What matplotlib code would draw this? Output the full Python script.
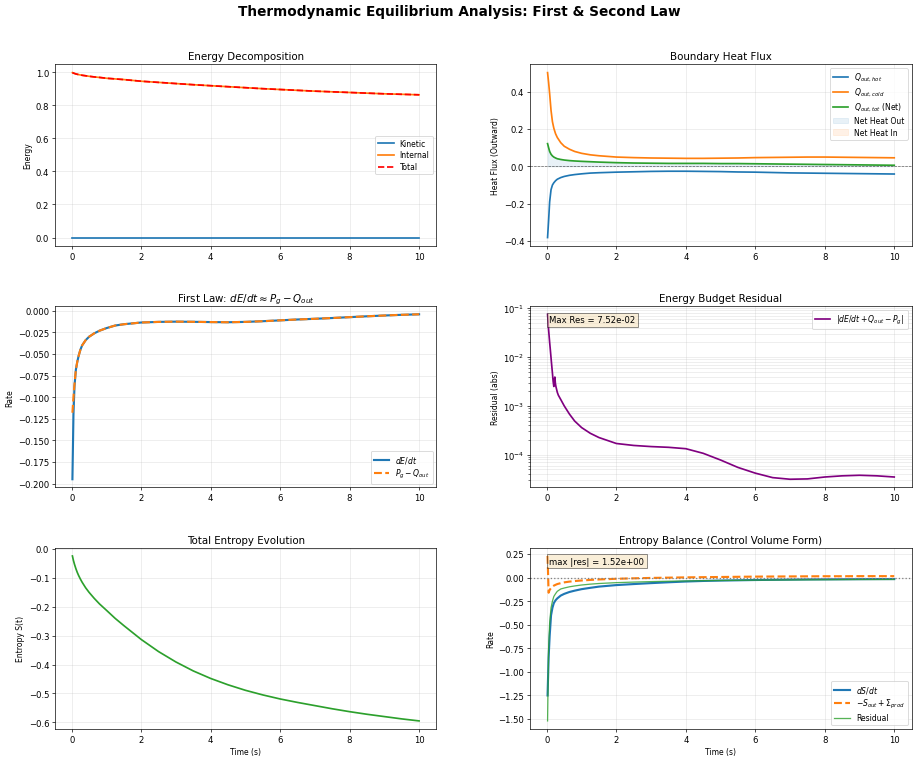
import matplotlib
matplotlib.use("Agg")
import matplotlib.pyplot as plt
import numpy as np

# shared time grid (s)
t = [0.02, 0.05, 0.08, 0.12, 0.16, 0.2, 0.25, 0.3, 0.4, 0.5, 0.65, 0.8, 1.0, 1.25, 1.5,
     2.0, 2.5, 3.0, 3.5, 4.0, 4.5, 5.0, 5.5, 6.0, 6.5, 7.0, 7.5, 8.0, 8.5, 9.0, 9.5, 10.0]

# energy decomposition
e_kinetic = [0.0, 0.0, 0.0, 0.0, 0.0, 0.0, 0.0, 0.0, 0.0, 0.0, 0.0, 0.0, 0.0, 0.0, 0.0,
             0.0, 0.0, 0.0, 0.0, 0.0, 0.0, 0.0, 0.0, 0.0, 0.0, 0.0, 0.0, 0.0, 0.0, 0.0, 0.0, 0.0]
e_internal = [0.997, 0.994, 0.992, 0.989, 0.987, 0.985, 0.983, 0.981, 0.978, 0.975, 0.971, 0.968,
              0.963, 0.959, 0.955, 0.945, 0.938, 0.931, 0.924, 0.918, 0.912, 0.906, 0.900, 0.895,
              0.890, 0.885, 0.881, 0.877, 0.873, 0.869, 0.866, 0.863]
e_total = [0.997, 0.994, 0.992, 0.989, 0.987, 0.985, 0.983, 0.981, 0.978, 0.975, 0.971, 0.968,
           0.963, 0.959, 0.955, 0.945, 0.938, 0.931, 0.924, 0.918, 0.912, 0.906, 0.900, 0.895,
           0.890, 0.885, 0.881, 0.877, 0.873, 0.869, 0.866, 0.863]

# boundary heat flux
q_hot = [-0.382, -0.29, -0.19, -0.125, -0.10, -0.088, -0.077, -0.069, -0.060, -0.054, -0.048, -0.044,
         -0.040, -0.036, -0.034, -0.031, -0.029, -0.027, -0.026, -0.026, -0.027, -0.028, -0.030, -0.031,
         -0.033, -0.035, -0.036, -0.037, -0.038, -0.039, -0.040, -0.041]
q_cold = [0.503, 0.45, 0.39, 0.30, 0.24, 0.205, 0.175, 0.155, 0.127, 0.108, 0.092, 0.080,
          0.070, 0.062, 0.057, 0.050, 0.047, 0.045, 0.044, 0.043, 0.043, 0.044, 0.045, 0.047,
          0.048, 0.049, 0.050, 0.050, 0.049, 0.048, 0.047, 0.046]
q_net = [0.122, 0.10, 0.08, 0.065, 0.056, 0.050, 0.045, 0.041, 0.037, 0.034, 0.031, 0.029,
         0.027, 0.025, 0.023, 0.020, 0.018, 0.017, 0.016, 0.016, 0.016, 0.015, 0.015, 0.014,
         0.013, 0.012, 0.011, 0.010, 0.009, 0.008, 0.007, 0.006]

# first law
de_dt = [-0.195, -0.120, -0.087, -0.068, -0.059, -0.052, -0.045, -0.040, -0.034, -0.030, -0.026, -0.023,
         -0.020, -0.017, -0.0155, -0.0135, -0.0128, -0.0125, -0.0127, -0.0130, -0.0132, -0.0128, -0.0120, -0.0110,
         -0.0100, -0.0092, -0.0083, -0.0073, -0.0063, -0.0054, -0.0046, -0.0040]
pg_minus_q = [-0.118, -0.100, -0.085, -0.068, -0.059, -0.052, -0.045, -0.040, -0.034, -0.030, -0.026, -0.023,
              -0.020, -0.017, -0.0155, -0.0135, -0.0128, -0.0125, -0.0127, -0.0130, -0.0132, -0.0128, -0.0120, -0.0110,
              -0.0100, -0.0092, -0.0083, -0.0073, -0.0063, -0.0054, -0.0046, -0.0040]

# energy budget residual
t_res = [0.02, 0.05, 0.08, 0.1, 0.13, 0.16, 0.18, 0.2, 0.215, 0.23, 0.245, 0.26, 0.3, 0.33, 0.4, 0.5,
         0.65, 0.8, 1.0, 1.25, 1.5, 2.0, 2.5, 3.0, 3.5, 4.0, 4.5, 5.0, 5.5, 6.0, 6.5, 7.0, 7.5, 8.0,
         8.5, 9.0, 9.5, 10.0]
energy_res = [7.52e-2, 3.6e-2, 2.0e-2, 1.4e-2, 8.0e-3, 4.7e-3, 3.2e-3, 2.5e-3, 3.5e-3, 3.9e-3, 2.9e-3,
              2.5e-3, 1.9e-3, 1.66e-3, 1.35e-3, 1.0e-3, 6.8e-4, 4.9e-4, 3.6e-4, 2.75e-4, 2.25e-4, 1.7e-4,
              1.55e-4, 1.47e-4, 1.42e-4, 1.33e-4, 1.07e-4, 7.8e-5, 5.5e-5, 4.2e-5, 3.4e-5, 3.15e-5, 3.2e-5,
              3.5e-5, 3.7e-5, 3.8e-5, 3.7e-5, 3.5e-5]

# total entropy
entropy = [-0.024, -0.040, -0.053, -0.068, -0.081, -0.092, -0.104, -0.115, -0.134, -0.150, -0.171, -0.190,
           -0.212, -0.240, -0.265, -0.313, -0.355, -0.391, -0.422, -0.448, -0.470, -0.489, -0.505, -0.519,
           -0.531, -0.542, -0.553, -0.563, -0.572, -0.580, -0.588, -0.595]

# entropy balance
ds_dt = [-1.25, -0.85, -0.62, -0.40, -0.32, -0.27, -0.24, -0.22, -0.19, -0.172, -0.152, -0.138,
         -0.122, -0.108, -0.095, -0.079, -0.068, -0.058, -0.049, -0.041, -0.035, -0.031, -0.028, -0.025,
         -0.023, -0.021, -0.019, -0.018, -0.017, -0.016, -0.015, -0.015]
s_flux_prod = [0.23, -0.16, -0.13, -0.11, -0.095, -0.085, -0.076, -0.068, -0.058, -0.050, -0.042, -0.036,
               -0.030, -0.024, -0.019, -0.012, -0.007, -0.003, 0.0, 0.003, 0.005, 0.007, 0.009, 0.011,
               0.012, 0.013, 0.014, 0.015, 0.015, 0.016, 0.016, 0.016]
s_residual = [-1.52, -0.75, -0.48, -0.32, -0.25, -0.20, -0.17, -0.145, -0.12, -0.11, -0.097, -0.088,
              -0.078, -0.069, -0.062, -0.053, -0.047, -0.042, -0.038, -0.035, -0.032, -0.030, -0.028, -0.026,
              -0.025, -0.024, -0.023, -0.022, -0.021, -0.020, -0.020, -0.019]

max_res_energy = "Max Res = 7.52e-02"
max_res_entropy = "max |res| = 1.52e+00"

fig, axes = plt.subplots(3, 2, figsize=(15, 12.4))
fig.subplots_adjust(left=0.060, right=0.993, top=0.914, bottom=0.038, wspace=0.246, hspace=0.332)
fig.suptitle("Thermodynamic Equilibrium Analysis: First & Second Law", fontsize=16, fontweight="bold", y=0.993)

box = dict(boxstyle="square,pad=0.3", facecolor="wheat", alpha=0.5)
leg_kw = dict(fontsize=9, labelspacing=0.35)

# Energy decomposition
ax = axes[0, 0]
ax.plot(t, e_kinetic, color="tab:blue", lw=2, label="Kinetic")
ax.plot(t, e_internal, color="tab:orange", lw=2, label="Internal")
ax.plot(t, e_total, "r--", lw=2, label="Total")
ax.set_title("Energy Decomposition")
ax.set_ylabel("Energy", fontsize=9)
ax.legend(loc="center right", **leg_kw)
ax.grid(True, alpha=0.3)

# Heat flux
ax = axes[0, 1]
ax.plot(t, q_hot, color="tab:blue", lw=2, label=r"$Q_{out,hot}$")
ax.plot(t, q_cold, color="tab:orange", lw=2, label=r"$Q_{out,cold}$")
ax.plot(t, q_net, color="tab:green", lw=2, label=r"$Q_{out,tot}$ (Net)")
qn = np.array(q_net)
ax.fill_between(t, qn, 0, where=qn > 0, color="tab:blue", alpha=0.1, label="Net Heat Out")
ax.fill_between(t, qn, 0, where=qn < 0, color="tab:orange", alpha=0.1, label="Net Heat In")
ax.axhline(0, color="k", ls="--", lw=0.8, alpha=0.6)
ax.set_title("Boundary Heat Flux")
ax.set_ylabel("Heat Flux (Outward)", fontsize=9)
ax.legend(loc="upper right", **leg_kw)
ax.grid(True, alpha=0.3)

# First law
ax = axes[1, 0]
ax.plot(t, de_dt, color="tab:blue", lw=2.5, label=r"$dE/dt$")
ax.plot(t, pg_minus_q, color="tab:orange", ls="--", lw=2.5, label=r"$P_g - Q_{out}$")
ax.set_title(r"First Law: $dE/dt \approx P_g - Q_{out}$")
ax.set_ylabel("Rate", fontsize=9)
ax.legend(loc="lower right", **leg_kw)
ax.grid(True, alpha=0.3)

# Residual
ax = axes[1, 1]
ax.semilogy(t_res, energy_res, color="purple", lw=2, label=r"$|dE/dt + Q_{out} - P_g|$")
ax.set_title("Energy Budget Residual")
ax.set_ylabel("Residual (abs)", fontsize=9)
ax.legend(loc="upper right", **leg_kw)
ax.grid(True, which="both", alpha=0.3)
ax.text(0.05, 0.95, max_res_energy, transform=ax.transAxes, fontsize=10, va="top", bbox=box)

# Entropy
ax = axes[2, 0]
ax.plot(t, entropy, color="tab:green", lw=2)
ax.set_title("Total Entropy Evolution")
ax.set_ylabel("Entropy S(t)", fontsize=9)
ax.set_xlabel("Time (s)", fontsize=9)
ax.grid(True, alpha=0.3)

# Entropy balance
ax = axes[2, 1]
ax.plot(t, ds_dt, color="tab:blue", lw=2.5, label=r"$dS/dt$")
ax.plot(t, s_flux_prod, color="tab:orange", ls="--", lw=2.5, label=r"$-S_{out} + \Sigma_{prod}$")
ax.plot(t, s_residual, color="tab:green", lw=1.5, alpha=0.8, label="Residual")
ax.axhline(0, color="gray", ls=":", lw=1.5)
ax.set_title("Entropy Balance (Control Volume Form)")
ax.set_ylabel("Rate", fontsize=9)
ax.set_xlabel("Time (s)", fontsize=9)
ax.legend(loc="lower right", **leg_kw)
ax.grid(True, alpha=0.3)
ax.text(0.05, 0.95, max_res_entropy, transform=ax.transAxes, fontsize=10, va="top", bbox=box)

fig.savefig("out.png", dpi=61.2)
